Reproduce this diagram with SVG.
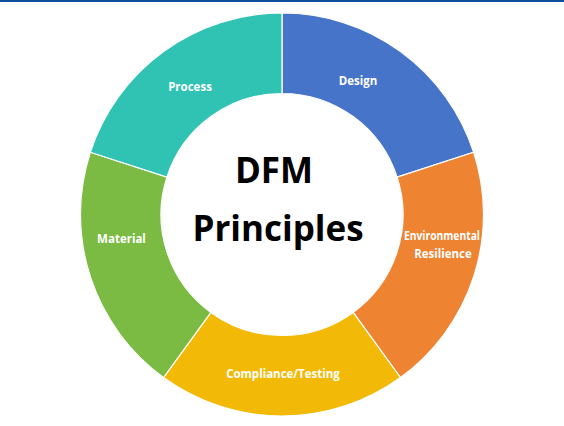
<svg xmlns="http://www.w3.org/2000/svg" width="564" height="426" viewBox="0 0 564 426">
  <style>
    .seg { stroke: #ffffff; stroke-width: 1.2; }
    .lbl { font-family: "Open Sans", "Liberation Sans", sans-serif; font-weight: 700; font-size: 11.5px; fill: #ffffff; text-anchor: middle; }
    .title { font-family: "Open Sans", "Liberation Sans", sans-serif; font-weight: 700; font-size: 35px; fill: #000000; text-anchor: middle; }
  </style>
  <rect x="0" y="0" width="564" height="426" fill="#ffffff"/>
  <rect x="0" y="0" width="564" height="2" fill="#0d4f9a"/>
  <g id="design">
    <path class="seg" fill="#4674C9" d="M282,13 A201.5,201.5 0 0 1 473.64,152.23 L397.08,177.11 A121,121 0 0 0 282,93.5 Z"/>
    <text class="lbl" x="358" y="85">Design</text>
  </g>
  <g id="environmental-resilience">
    <path class="seg" fill="#EE8332" d="M473.64,152.23 A201.5,201.5 0 0 1 400.44,377.52 L353.12,312.39 A121,121 0 0 0 397.08,177.11 Z"/>
    <text class="lbl" x="442" y="240" textLength="76" lengthAdjust="spacingAndGlyphs">Environmental</text>
    <text class="lbl" x="443" y="258">Resilience</text>
  </g>
  <g id="compliance-testing">
    <path class="seg" fill="#F2BA07" d="M400.44,377.52 A201.5,201.5 0 0 1 163.56,377.52 L210.88,312.39 A121,121 0 0 0 353.12,312.39 Z"/>
    <text class="lbl" x="283" y="378">Compliance/Testing</text>
  </g>
  <g id="material">
    <path class="seg" fill="#7BBB43" d="M163.56,377.52 A201.5,201.5 0 0 1 90.36,152.23 L166.92,177.11 A121,121 0 0 0 210.88,312.39 Z"/>
    <text class="lbl" x="121.5" y="243">Material</text>
  </g>
  <g id="process">
    <path class="seg" fill="#30C2B3" d="M90.36,152.23 A201.5,201.5 0 0 1 282,13 L282,93.5 A121,121 0 0 0 166.92,177.11 Z"/>
    <text class="lbl" x="190" y="91">Process</text>
  </g>
  <g id="center">
    <text class="title" x="274" y="183">DFM</text>
    <text class="title" x="278" y="241">Principles</text>
  </g>
</svg>
